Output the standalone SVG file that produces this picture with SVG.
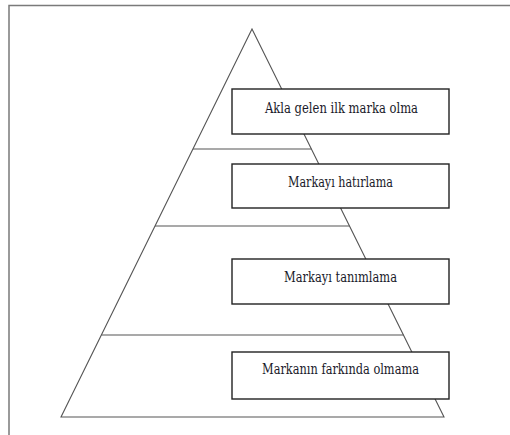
<svg xmlns="http://www.w3.org/2000/svg" width="510" height="435" viewBox="0 0 510 435">
<style>
.frame{fill:none;stroke:#7a7a7a;stroke-width:1.5}
.tri{fill:none;stroke:#555;stroke-width:1.1}
.box{fill:#fff;stroke:#222;stroke-width:1.4}
.lbl{font-family:'DejaVu Serif',serif;font-size:14px;fill:#1a1a2a;text-anchor:middle}
</style>
<rect width="510" height="435" fill="#fff"/>
<path class="frame" d="M9,435 V5.5 H510"/>
<g id="connectors">
<polygon class="tri" points="252,29 61,417 444,417"/>
<line class="tri" x1="193" y1="149" x2="311.5" y2="149"/>
<line class="tri" x1="155" y1="226" x2="349.5" y2="226"/>
<line class="tri" x1="101.5" y1="335" x2="403.5" y2="335"/>
</g>
<g id="level1"><rect class="box" x="232" y="89" width="217" height="45"/><text class="lbl" x="341.5" y="112.5" textLength="153" lengthAdjust="spacingAndGlyphs">Akla gelen ilk marka olma</text></g>
<g id="level2"><rect class="box" x="232" y="164" width="217" height="44"/><text class="lbl" x="340.5" y="187" textLength="105" lengthAdjust="spacingAndGlyphs">Markayı hatırlama</text></g>
<g id="level3"><rect class="box" x="232" y="259" width="217" height="45"/><text class="lbl" x="340.5" y="282" textLength="113" lengthAdjust="spacingAndGlyphs">Markayı tanımlama</text></g>
<g id="level4"><rect class="box" x="232" y="352" width="217" height="47"/><text class="lbl" x="340.5" y="374" textLength="157" lengthAdjust="spacingAndGlyphs">Markanın farkında olmama</text></g>
</svg>
